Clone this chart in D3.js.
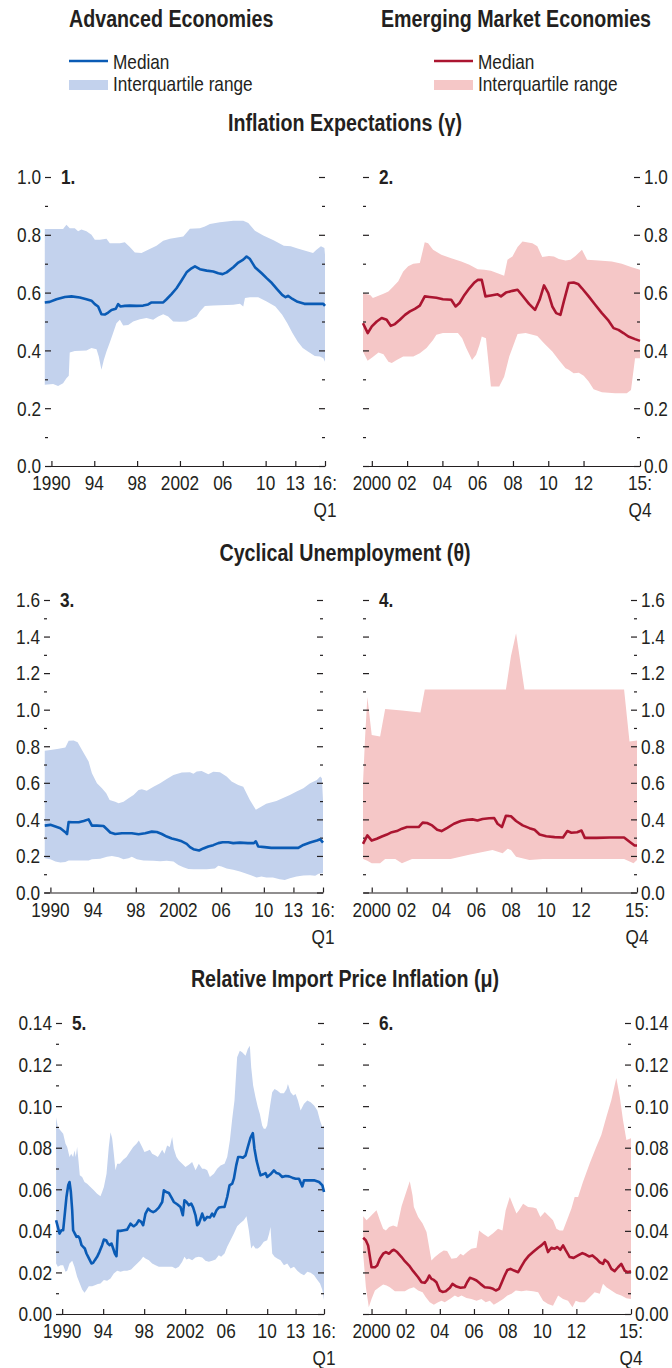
<!DOCTYPE html>
<html><head><meta charset="utf-8">
<script src="https://cdn.jsdelivr.net/npm/d3@7"></script>
<style>
html,body{margin:0;padding:0;background:#fff;}
svg{display:block;}
text{font-family:'Liberation Sans',Arial,Helvetica,sans-serif;fill:#231f20;}
</style></head><body>
<svg id="chart" width="672" height="1368"></svg>
<script>
// ---------- DATA ----------
// Inflation expectations (gamma)
const ieAdvMedian = [[1989.38,0.566],[1989.84,0.568],[1990.47,0.577],[1991.25,0.585],[1991.87,0.587],[1992.65,0.583],[1993.27,0.577],[1993.74,0.572],[1994.05,0.560],[1994.36,0.552],[1994.67,0.525],[1994.98,0.524],[1995.30,0.531],[1995.61,0.540],[1996.01,0.544],[1996.23,0.560],[1996.45,0.552],[1996.85,0.554],[1997.32,0.555],[1997.94,0.554],[1998.57,0.555],[1999.03,0.559],[1999.35,0.566],[1999.81,0.566],[2000.44,0.566],[2000.75,0.577],[2001.21,0.595],[2001.68,0.615],[2002.15,0.642],[2002.62,0.670],[2003.08,0.684],[2003.40,0.691],[2003.86,0.681],[2004.49,0.676],[2005.11,0.673],[2005.58,0.667],[2005.98,0.664],[2006.36,0.670],[2006.98,0.688],[2007.45,0.704],[2007.91,0.714],[2008.22,0.725],[2008.54,0.716],[2009.00,0.688],[2009.63,0.667],[2010.10,0.650],[2010.63,0.633],[2011.15,0.612],[2011.67,0.592],[2012.01,0.584],[2012.26,0.589],[2012.71,0.578],[2013.23,0.568],[2013.92,0.561],[2014.97,0.561],[2015.83,0.561],[2016.0,0.554]];
const ieAdvUpper = [[1989.38,0.820],[1991.09,0.820],[1991.40,0.835],[1991.71,0.823],[1992.18,0.823],[1992.49,0.812],[1992.80,0.818],[1993.27,0.812],[1993.74,0.800],[1994.05,0.783],[1994.52,0.783],[1995.14,0.786],[1995.45,0.771],[1996.39,0.771],[1996.85,0.774],[1997.32,0.758],[1997.79,0.739],[1998.41,0.737],[1999.03,0.748],[1999.81,0.762],[2000.44,0.779],[2001.06,0.786],[2002.31,0.794],[2002.93,0.821],[2003.86,0.823],[2004.33,0.829],[2004.80,0.837],[2005.73,0.843],[2006.98,0.849],[2007.91,0.849],[2008.38,0.841],[2009.00,0.814],[2009.78,0.798],[2010.80,0.781],[2011.84,0.762],[2012.53,0.760],[2013.23,0.753],[2013.92,0.746],[2014.79,0.737],[2015.14,0.748],[2015.59,0.760],[2015.94,0.754],[2016.0,0.731]];
const ieAdvLower = [[1989.38,0.281],[1990.16,0.284],[1990.62,0.277],[1991.09,0.286],[1991.40,0.304],[1991.62,0.312],[1991.71,0.393],[1992.18,0.398],[1993.27,0.400],[1993.74,0.408],[1994.21,0.404],[1994.42,0.379],[1994.67,0.333],[1994.89,0.367],[1995.14,0.396],[1995.45,0.427],[1995.76,0.460],[1996.07,0.494],[1996.39,0.506],[1996.70,0.486],[1997.17,0.488],[1997.63,0.500],[1998.26,0.508],[1998.88,0.512],[1999.50,0.506],[1999.97,0.517],[2000.44,0.525],[2000.90,0.517],[2001.37,0.500],[2001.99,0.499],[2002.62,0.500],[2003.08,0.508],[2003.55,0.517],[2003.86,0.535],[2004.33,0.554],[2005.11,0.555],[2006.98,0.558],[2007.60,0.561],[2007.91,0.552],[2008.07,0.581],[2008.54,0.584],[2009.31,0.584],[2010.10,0.569],[2010.98,0.552],[2011.67,0.523],[2012.19,0.494],[2012.71,0.460],[2013.23,0.431],[2013.75,0.408],[2014.27,0.396],[2014.97,0.381],[2015.49,0.379],[2015.83,0.373],[2016.0,0.361]];
const ieEmMedian = [[1999.5,0.494],[1999.77,0.460],[2000.00,0.483],[2000.28,0.500],[2000.56,0.512],[2000.84,0.506],[2001.07,0.485],[2001.31,0.491],[2001.59,0.506],[2001.88,0.523],[2002.16,0.535],[2002.44,0.544],[2002.72,0.555],[2003.00,0.587],[2003.28,0.585],[2003.66,0.582],[2004.03,0.577],[2004.50,0.575],[2004.75,0.552],[2004.97,0.564],[2005.25,0.592],[2005.53,0.615],[2005.82,0.635],[2006.00,0.644],[2006.23,0.644],[2006.44,0.587],[2006.75,0.590],[2007.13,0.594],[2007.32,0.587],[2007.60,0.600],[2007.97,0.606],[2008.26,0.610],[2008.54,0.589],[2008.91,0.561],[2009.25,0.540],[2009.51,0.575],[2009.76,0.625],[2010.00,0.598],[2010.23,0.552],[2010.45,0.529],[2010.69,0.523],[2010.88,0.569],[2011.16,0.633],[2011.44,0.635],[2011.69,0.630],[2011.91,0.615],[2012.29,0.587],[2012.66,0.558],[2013.04,0.529],[2013.38,0.506],[2013.70,0.477],[2013.98,0.471],[2014.26,0.460],[2014.54,0.448],[2014.92,0.439],[2015.2,0.433]];
const ieEmUpper = [[1999.5,0.598],[1999.91,0.592],[2000.06,0.581],[2000.38,0.589],[2000.66,0.596],[2000.94,0.604],[2001.22,0.621],[2001.50,0.639],[2001.78,0.673],[2002.06,0.691],[2002.35,0.700],[2002.72,0.702],[2003.00,0.774],[2003.19,0.771],[2003.47,0.748],[2003.94,0.731],[2004.50,0.719],[2005.07,0.708],[2005.53,0.696],[2006.00,0.681],[2006.38,0.679],[2006.75,0.676],[2007.13,0.667],[2007.50,0.658],[2007.69,0.714],[2007.97,0.725],[2008.26,0.758],[2008.54,0.777],[2009.10,0.771],[2009.38,0.760],[2009.66,0.723],[2010.04,0.727],[2010.32,0.725],[2010.60,0.716],[2010.98,0.711],[2011.26,0.714],[2011.54,0.727],[2011.91,0.748],[2012.20,0.714],[2012.85,0.711],[2013.60,0.708],[2014.17,0.700],[2014.73,0.688],[2015.2,0.679]];
const ieEmLower = [[1999.5,0.396],[1999.76,0.364],[2000.00,0.375],[2000.38,0.393],[2000.66,0.387],[2000.94,0.361],[2001.13,0.356],[2001.41,0.367],[2001.78,0.379],[2002.35,0.379],[2002.72,0.390],[2003.10,0.408],[2003.47,0.436],[2003.66,0.454],[2004.03,0.460],[2004.88,0.460],[2005.12,0.442],[2005.35,0.408],[2005.68,0.367],[2005.91,0.385],[2006.10,0.419],[2006.23,0.448],[2006.47,0.442],[2006.75,0.275],[2007.22,0.275],[2007.50,0.309],[2007.79,0.379],[2008.26,0.457],[2008.72,0.460],[2009.38,0.450],[2009.76,0.425],[2010.23,0.396],[2010.60,0.367],[2010.98,0.338],[2011.16,0.333],[2011.44,0.321],[2011.73,0.323],[2012.01,0.312],[2012.29,0.292],[2012.57,0.266],[2013.04,0.255],[2013.79,0.252],[2014.45,0.252],[2014.69,0.263],[2014.92,0.373],[2015.2,0.373]];

// Cyclical unemployment (theta)
const cuAdvMedian = [[1989.47,0.366],[1990.00,0.370],[1990.47,0.361],[1990.93,0.352],[1991.40,0.330],[1991.56,0.320],[1991.71,0.386],[1992.02,0.384],[1992.65,0.384],[1993.12,0.391],[1993.58,0.400],[1993.89,0.366],[1994.36,0.366],[1994.98,0.364],[1995.30,0.346],[1995.61,0.328],[1996.07,0.320],[1996.70,0.324],[1997.63,0.324],[1998.26,0.319],[1998.88,0.324],[1999.50,0.333],[1999.97,0.331],[2000.44,0.320],[2000.90,0.306],[2001.37,0.295],[2001.84,0.288],[2002.31,0.280],[2002.77,0.266],[2003.08,0.248],[2003.40,0.237],[2003.93,0.230],[2004.33,0.241],[2004.80,0.252],[2005.26,0.259],[2005.73,0.270],[2006.14,0.275],[2006.67,0.275],[2007.13,0.270],[2007.76,0.273],[2008.50,0.270],[2009.07,0.270],[2009.25,0.280],[2009.47,0.252],[2010.07,0.248],[2010.75,0.244],[2011.61,0.244],[2012.64,0.244],[2013.49,0.244],[2014.01,0.260],[2014.69,0.273],[2015.38,0.284],[2015.72,0.291],[2016.0,0.273]];
const cuAdvUpper = [[1989.47,0.776],[1990.00,0.780],[1990.78,0.786],[1991.40,0.793],[1991.71,0.830],[1992.18,0.831],[1992.55,0.822],[1992.96,0.780],[1993.58,0.716],[1993.89,0.652],[1994.36,0.598],[1994.83,0.570],[1995.23,0.543],[1995.55,0.506],[1996.07,0.497],[1996.39,0.488],[1996.85,0.497],[1997.32,0.515],[1997.79,0.534],[1998.26,0.561],[1998.57,0.565],[1999.03,0.556],[1999.66,0.579],[2000.28,0.598],[2000.90,0.621],[2001.53,0.643],[2002.31,0.656],[2003.08,0.658],[2003.40,0.649],[2003.71,0.662],[2004.17,0.665],[2004.80,0.647],[2005.26,0.660],[2005.89,0.658],[2006.51,0.634],[2006.98,0.607],[2007.60,0.588],[2008.07,0.579],[2008.69,0.506],[2009.25,0.452],[2009.78,0.470],[2010.24,0.485],[2011.27,0.501],[2011.95,0.517],[2012.64,0.534],[2013.32,0.552],[2014.01,0.570],[2014.69,0.598],[2015.38,0.616],[2015.72,0.634],[2015.89,0.625],[2016.0,0.506]];
const cuAdvLower = [[1989.47,0.187],[1990.00,0.182],[1990.47,0.169],[1990.93,0.164],[1991.40,0.167],[1991.71,0.175],[1992.80,0.175],[1993.58,0.175],[1993.89,0.182],[1994.67,0.184],[1995.30,0.196],[1995.76,0.200],[1996.39,0.193],[1996.85,0.182],[1997.32,0.187],[1997.63,0.196],[1998.10,0.182],[1998.72,0.175],[1999.66,0.173],[2000.28,0.171],[2000.90,0.173],[2001.53,0.169],[2001.99,0.151],[2002.46,0.138],[2002.93,0.129],[2003.40,0.127],[2004.02,0.127],[2004.64,0.127],[2005.42,0.131],[2005.73,0.146],[2006.04,0.142],[2006.51,0.131],[2007.13,0.124],[2007.76,0.115],[2008.38,0.102],[2008.85,0.093],[2009.32,0.082],[2009.78,0.087],[2010.24,0.082],[2010.92,0.082],[2011.61,0.073],[2012.12,0.069],[2012.64,0.078],[2013.32,0.087],[2014.01,0.093],[2014.69,0.094],[2015.21,0.091],[2015.55,0.102],[2016.0,0.105]];
const cuEmMedian = [[1999.5,0.266],[1999.75,0.312],[2000.00,0.284],[2000.29,0.294],[2000.58,0.306],[2000.87,0.317],[2001.15,0.330],[2001.44,0.336],[2001.73,0.349],[2002.02,0.358],[2002.31,0.358],[2002.69,0.358],[2002.92,0.382],[2003.17,0.380],[2003.46,0.367],[2003.75,0.343],[2004.00,0.336],[2004.33,0.354],[2004.71,0.376],[2005.10,0.391],[2005.48,0.398],[2005.77,0.400],[2006.06,0.394],[2006.35,0.402],[2006.73,0.406],[2007.02,0.407],[2007.21,0.376],[2007.46,0.358],[2007.69,0.420],[2007.98,0.417],[2008.27,0.391],[2008.65,0.367],[2009.04,0.352],[2009.33,0.343],[2009.62,0.317],[2010.00,0.308],[2010.48,0.303],[2010.96,0.301],[2011.21,0.336],[2011.44,0.327],[2011.77,0.330],[2012.02,0.339],[2012.21,0.299],[2012.88,0.299],[2013.65,0.301],[2014.46,0.301],[2014.81,0.275],[2015.06,0.257],[2015.2,0.257]];
const cuEmUpper = [[1999.5,0.60],[1999.62,0.85],[1999.75,1.07],[2000.00,0.862],[2000.48,0.853],[2000.77,1.004],[2001.73,0.996],[2002.79,0.985],[2003.04,1.110],[2007.69,1.110],[2007.98,1.294],[2008.27,1.418],[2008.75,1.110],[2014.46,1.110],[2014.77,0.826],[2015.2,0.831]];
const cuEmLower = [[1999.5,0.183],[1999.75,0.174],[2000.00,0.160],[2000.48,0.160],[2000.77,0.183],[2001.35,0.183],[2001.73,0.160],[2002.31,0.183],[2002.88,0.183],[2004.52,0.183],[2005.58,0.207],[2006.92,0.233],[2007.50,0.215],[2007.79,0.239],[2007.98,0.233],[2008.27,0.196],[2009.04,0.178],[2009.81,0.183],[2011.35,0.183],[2014.46,0.183],[2015.0,0.160],[2015.2,0.178]];

// Relative import price inflation (mu)
const ipAdvMedian = [[1989.41,0.0451],[1989.58,0.0419],[1989.74,0.0387],[1989.93,0.0403],[1990.10,0.0403],[1990.26,0.0483],[1990.42,0.0563],[1990.59,0.0619],[1990.72,0.0635],[1990.85,0.0587],[1990.98,0.0499],[1991.07,0.0403],[1991.24,0.0387],[1991.40,0.0371],[1991.56,0.0374],[1991.72,0.0363],[1991.89,0.0331],[1992.05,0.0323],[1992.21,0.0315],[1992.37,0.0291],[1992.54,0.0275],[1992.70,0.0259],[1992.86,0.0243],[1993.02,0.0246],[1993.19,0.0259],[1993.41,0.0275],[1993.64,0.0299],[1993.90,0.0331],[1994.07,0.0358],[1994.29,0.0355],[1994.46,0.0339],[1994.65,0.0331],[1994.81,0.0339],[1994.98,0.0315],[1995.14,0.0291],[1995.30,0.0278],[1995.43,0.0400],[1995.69,0.0400],[1996.02,0.0403],[1996.34,0.0406],[1996.67,0.0435],[1996.83,0.0427],[1996.99,0.0422],[1997.25,0.0432],[1997.48,0.0451],[1997.71,0.0443],[1997.90,0.0427],[1998.13,0.0483],[1998.39,0.0507],[1998.62,0.0496],[1998.88,0.0490],[1999.11,0.0496],[1999.43,0.0512],[1999.76,0.0539],[1999.92,0.0595],[2000.15,0.0587],[2000.41,0.0582],[2000.67,0.0560],[2000.89,0.0539],[2001.22,0.0528],[2001.54,0.0515],[2001.77,0.0475],[2001.93,0.0547],[2002.13,0.0539],[2002.36,0.0523],[2002.59,0.0531],[2002.78,0.0512],[2003.01,0.0475],[2003.17,0.0427],[2003.33,0.0435],[2003.50,0.0459],[2003.66,0.0483],[2003.89,0.0451],[2004.15,0.0467],[2004.41,0.0464],[2004.63,0.0483],[2004.80,0.0470],[2005.06,0.0499],[2005.28,0.0512],[2005.61,0.0515],[2005.84,0.0515],[2006.10,0.0563],[2006.33,0.0619],[2006.59,0.0627],[2006.75,0.0651],[2006.98,0.0715],[2007.17,0.0755],[2007.40,0.0755],[2007.63,0.0752],[2007.89,0.0763],[2008.11,0.0803],[2008.37,0.0848],[2008.60,0.0870],[2008.76,0.0795],[2008.96,0.0739],[2009.19,0.0694],[2009.35,0.0667],[2009.61,0.0672],[2009.84,0.0678],[2010.00,0.0659],[2010.35,0.0672],[2010.71,0.0691],[2010.99,0.0678],[2011.24,0.0675],[2011.59,0.0659],[2011.94,0.0664],[2012.30,0.0662],[2012.65,0.0656],[2013.00,0.0651],[2013.36,0.0651],[2013.71,0.0614],[2013.89,0.0643],[2014.24,0.0643],[2014.95,0.0643],[2015.48,0.0635],[2015.83,0.0619],[2016.0,0.0587]];
const ipAdvUpper = [[1989.41,0.0947],[1989.58,0.0899],[1989.84,0.0883],[1990.10,0.0867],[1990.33,0.0819],[1990.49,0.0803],[1990.72,0.0755],[1990.88,0.0771],[1991.07,0.0755],[1991.20,0.0787],[1991.33,0.0755],[1991.46,0.0803],[1991.59,0.0739],[1991.72,0.0667],[1991.95,0.0659],[1992.18,0.0635],[1992.44,0.0627],[1992.76,0.0611],[1993.09,0.0595],[1993.41,0.0579],[1993.74,0.0566],[1993.90,0.0587],[1994.07,0.0611],[1994.33,0.0675],[1994.55,0.0803],[1994.72,0.0875],[1994.88,0.0843],[1995.04,0.0771],[1995.20,0.0691],[1995.37,0.0723],[1995.63,0.0723],[1995.95,0.0742],[1996.28,0.0755],[1996.60,0.0779],[1996.93,0.0803],[1997.25,0.0819],[1997.48,0.0835],[1997.80,0.0803],[1998.03,0.0779],[1998.29,0.0784],[1998.55,0.0790],[1998.78,0.0771],[1999.11,0.0763],[1999.33,0.0755],[1999.53,0.0771],[1999.76,0.0790],[1999.98,0.0771],[2000.24,0.0811],[2000.50,0.0803],[2000.73,0.0851],[2000.89,0.0795],[2001.15,0.0755],[2001.38,0.0739],[2001.71,0.0723],[2002.03,0.0707],[2002.36,0.0718],[2002.68,0.0731],[2003.01,0.0691],[2003.33,0.0723],[2003.66,0.0699],[2003.89,0.0699],[2004.15,0.0691],[2004.41,0.0659],[2004.80,0.0675],[2005.12,0.0699],[2005.45,0.0715],[2005.84,0.0723],[2006.10,0.0755],[2006.36,0.0835],[2006.59,0.0939],[2006.81,0.1027],[2007.07,0.1235],[2007.33,0.1267],[2007.56,0.1259],[2007.89,0.1243],[2008.11,0.1275],[2008.31,0.1291],[2008.44,0.1187],[2008.63,0.1099],[2008.86,0.1043],[2009.09,0.0995],[2009.28,0.0963],[2009.51,0.0907],[2009.67,0.0891],[2009.84,0.0891],[2010.00,0.0907],[2010.28,0.0995],[2010.53,0.1067],[2010.78,0.1083],[2011.06,0.1075],[2011.41,0.1062],[2011.77,0.1062],[2012.05,0.1083],[2012.19,0.1107],[2012.47,0.1067],[2012.76,0.1051],[2013.00,0.1059],[2013.25,0.1027],[2013.53,0.0979],[2013.89,0.1011],[2014.24,0.1027],[2014.59,0.1019],[2014.95,0.1003],[2015.30,0.0979],[2015.58,0.0931],[2015.83,0.0899],[2016.0,0.0907]];
const ipAdvLower = [[1989.41,0.0243],[1989.58,0.0227],[1989.84,0.0235],[1990.10,0.0235],[1990.33,0.0203],[1990.49,0.0208],[1990.72,0.0243],[1990.98,0.0256],[1991.20,0.0227],[1991.46,0.0179],[1991.72,0.0147],[1991.95,0.0118],[1992.18,0.0102],[1992.37,0.0115],[1992.60,0.0134],[1992.93,0.0134],[1993.25,0.0139],[1993.48,0.0144],[1993.74,0.0147],[1994.07,0.0163],[1994.39,0.0160],[1994.72,0.0171],[1995.04,0.0195],[1995.37,0.0208],[1995.69,0.0203],[1996.02,0.0208],[1996.34,0.0208],[1996.73,0.0214],[1996.99,0.0227],[1997.32,0.0243],[1997.64,0.0259],[1997.90,0.0275],[1998.13,0.0267],[1998.46,0.0259],[1998.78,0.0243],[1999.11,0.0235],[1999.43,0.0227],[1999.76,0.0227],[2000.08,0.0227],[2000.41,0.0227],[2000.73,0.0227],[2001.06,0.0219],[2001.38,0.0227],[2001.71,0.0251],[2001.93,0.0275],[2002.13,0.0262],[2002.36,0.0267],[2002.68,0.0259],[2003.01,0.0272],[2003.33,0.0275],[2003.66,0.0272],[2003.98,0.0256],[2004.31,0.0251],[2004.63,0.0256],[2004.96,0.0262],[2005.28,0.0283],[2005.51,0.0275],[2005.84,0.0291],[2006.10,0.0323],[2006.42,0.0355],[2006.75,0.0387],[2007.07,0.0422],[2007.40,0.0438],[2007.72,0.0451],[2007.98,0.0470],[2008.21,0.0403],[2008.44,0.0315],[2008.63,0.0331],[2008.86,0.0315],[2009.09,0.0315],[2009.35,0.0326],[2009.67,0.0347],[2010.00,0.0355],[2010.21,0.0387],[2010.35,0.0419],[2010.53,0.0291],[2010.78,0.0275],[2011.06,0.0267],[2011.41,0.0259],[2011.77,0.0235],[2012.12,0.0243],[2012.47,0.0219],[2012.83,0.0227],[2013.18,0.0208],[2013.53,0.0195],[2013.89,0.0187],[2014.24,0.0203],[2014.59,0.0198],[2014.95,0.0187],[2015.30,0.0163],[2015.58,0.0147],[2015.83,0.0115],[2016.0,0.0067]];
const ipEmMedian = [[1999.51,0.0367],[1999.67,0.0354],[1999.80,0.0330],[2000.00,0.0225],[2000.20,0.0225],[2000.33,0.0233],[2000.49,0.0266],[2000.68,0.0290],[2000.84,0.0298],[2001.03,0.0290],[2001.17,0.0303],[2001.31,0.0309],[2001.50,0.0298],[2001.76,0.0274],[2001.95,0.0254],[2002.20,0.0233],[2002.44,0.0206],[2002.73,0.0177],[2002.93,0.0153],[2003.12,0.0150],[2003.26,0.0164],[2003.38,0.0185],[2003.51,0.0169],[2003.65,0.0164],[2003.80,0.0153],[2004.00,0.0113],[2004.16,0.0106],[2004.35,0.0109],[2004.59,0.0126],[2004.74,0.0145],[2004.98,0.0132],[2005.21,0.0126],[2005.46,0.0129],[2005.60,0.0153],[2005.76,0.0174],[2005.95,0.0169],[2006.15,0.0161],[2006.38,0.0145],[2006.63,0.0129],[2006.93,0.0126],[2007.12,0.0121],[2007.28,0.0113],[2007.47,0.0121],[2007.61,0.0148],[2007.80,0.0185],[2007.96,0.0212],[2008.14,0.0217],[2008.35,0.0209],[2008.59,0.0201],[2008.78,0.0229],[2008.98,0.0257],[2009.23,0.0282],[2009.46,0.0298],[2009.76,0.0319],[2009.95,0.0330],[2010.15,0.0346],[2010.34,0.0298],[2010.54,0.0319],[2010.73,0.0314],[2010.87,0.0322],[2011.06,0.0309],[2011.22,0.0330],[2011.38,0.0306],[2011.61,0.0274],[2011.84,0.0270],[2012.10,0.0282],[2012.35,0.0293],[2012.55,0.0286],[2012.74,0.0277],[2012.94,0.0282],[2013.17,0.0266],[2013.37,0.0249],[2013.56,0.0241],[2013.66,0.0261],[2013.85,0.0249],[2014.05,0.0217],[2014.24,0.0206],[2014.44,0.0225],[2014.63,0.0241],[2014.83,0.0209],[2014.99,0.0201],[2015.2,0.0206]];
const ipEmUpper = [[1999.51,0.0470],[1999.71,0.0451],[1999.90,0.0467],[2000.10,0.0483],[2000.29,0.0499],[2000.49,0.0451],[2000.68,0.0410],[2000.84,0.0402],[2001.03,0.0418],[2001.27,0.0426],[2001.50,0.0418],[2001.76,0.0518],[2001.95,0.0566],[2002.24,0.0639],[2002.40,0.0571],[2002.48,0.0515],[2002.73,0.0467],[2002.99,0.0435],[2003.22,0.0394],[2003.51,0.0257],[2003.71,0.0274],[2004.00,0.0293],[2004.23,0.0306],[2004.43,0.0303],[2004.68,0.0266],[2004.98,0.0270],[2005.21,0.0290],[2005.37,0.0282],[2005.60,0.0298],[2005.85,0.0314],[2006.15,0.0319],[2006.30,0.0402],[2006.54,0.0386],[2006.83,0.0370],[2007.12,0.0389],[2007.41,0.0410],[2007.67,0.0402],[2007.86,0.0499],[2008.10,0.0563],[2008.29,0.0523],[2008.49,0.0483],[2008.64,0.0499],[2008.88,0.0531],[2009.17,0.0515],[2009.46,0.0512],[2009.66,0.0507],[2009.89,0.0467],[2010.15,0.0491],[2010.40,0.0470],[2010.63,0.0451],[2010.83,0.0410],[2011.02,0.0402],[2011.22,0.0402],[2011.41,0.0443],[2011.71,0.0507],[2011.90,0.0563],[2012.10,0.0563],[2012.39,0.0636],[2012.78,0.0724],[2013.17,0.0805],[2013.46,0.0861],[2013.76,0.0949],[2014.05,0.1030],[2014.34,0.1135],[2014.54,0.1046],[2014.73,0.0933],[2014.93,0.0837],[2015.2,0.0845]];
const ipEmLower = [[1999.51,0.0290],[1999.67,0.0129],[1999.84,0.0032],[2000.00,0.0072],[2000.20,0.0113],[2000.45,0.0129],[2000.68,0.0142],[2000.88,0.0137],[2001.07,0.0129],[2001.37,0.0109],[2001.66,0.0109],[2001.95,0.0109],[2002.20,0.0121],[2002.48,0.0129],[2002.73,0.0113],[2002.99,0.0105],[2003.18,0.0080],[2003.41,0.0056],[2003.65,0.0045],[2003.90,0.0056],[2004.10,0.0064],[2004.29,0.0056],[2004.59,0.0072],[2004.88,0.0089],[2005.07,0.0080],[2005.27,0.0089],[2005.56,0.0077],[2005.85,0.0072],[2006.15,0.0064],[2006.44,0.0072],[2006.69,0.0056],[2006.93,0.0064],[2007.16,0.0045],[2007.41,0.0056],[2007.71,0.0072],[2007.96,0.0089],[2008.20,0.0097],[2008.45,0.0113],[2008.78,0.0109],[2009.07,0.0113],[2009.46,0.0109],[2009.76,0.0105],[2010.05,0.0064],[2010.34,0.0048],[2010.63,0.0040],[2010.93,0.0089],[2011.22,0.0072],[2011.51,0.0064],[2011.77,0.0032],[2011.96,0.0064],[2012.20,0.0056],[2012.49,0.0056],[2012.78,0.0080],[2013.07,0.0105],[2013.37,0.0097],[2013.56,0.0145],[2013.76,0.0129],[2014.05,0.0113],[2014.34,0.0097],[2014.63,0.0089],[2014.93,0.0076],[2015.2,0.0072]];

// Tick values and labels
const advYearTicks = [1990, 1994, 1998, 2002, 2006, 2010, 2013, 2016];
const advYearLabels = ['1990', '94', '98', '2002', '06', '10', '13', '16:'];
const advYearSub = ['', '', '', '', '', '', '', 'Q1'];
const emYearTicks = [2000, 2002, 2004, 2006, 2008, 2010, 2012, 2015.2];
const emYearLabels = ['2000', '02', '04', '06', '08', '10', '12', '15:'];
const emYearSub = ['', '', '', '', '', '', '', 'Q4'];
const ieTicks = [0, 0.2, 0.4, 0.6, 0.8, 1.0];
const ieMinor = [0.1, 0.3, 0.5, 0.7, 0.9];
const cuTicks = [0, 0.2, 0.4, 0.6, 0.8, 1.0, 1.2, 1.4, 1.6];
const cuMinor = [0.1, 0.3, 0.5, 0.7, 0.9, 1.1, 1.3, 1.5];
const ipTicks = [0, 0.02, 0.04, 0.06, 0.08, 0.10, 0.12, 0.14];
const ipMinor = [0.01, 0.03, 0.05, 0.07, 0.09, 0.11, 0.13];

const columnTitles = ['Advanced Economies', 'Emerging Market Economies'];
const sectionTitles = ['Inflation Expectations (\u03b3)', 'Cyclical Unemployment (\u03b8)', 'Relative Import Price Inflation (\u03bc)'];
const legendLabels = ['Median', 'Interquartile range'];

// ---------- DRAWING ----------
const BLUE = '#0a5bb5', BLUE_F = '#c3d2ed', RED = '#ab1530', RED_F = '#f5c7c7', INK = '#231f20';
const SX = 0.82; // condensed type
const svg = d3.select('#chart');
svg.append('rect').attr('width', 672).attr('height', 1368).attr('fill', '#fff');

function txt(parent, x, y, s, o) {
  o = o || {};
  const t = parent.append('text')
    .attr('transform', `translate(${x},${y}) scale(${SX},1)`)
    .attr('font-size', o.size || 21)
    .attr('text-anchor', o.anchor || 'start')
    .attr('font-weight', o.weight || 'normal')
    .text(s);
  if (o.dy) t.attr('dy', o.dy);
  return t;
}

txt(svg, 69, 27, columnTitles[0], {size: 24, weight: 'bold'});
txt(svg, 381, 27, columnTitles[1], {size: 24, weight: 'bold'});

function legend(x, color, fill) {
  svg.append('line').attr('x1', x).attr('x2', x + 39).attr('y1', 61).attr('y2', 61)
    .attr('stroke', color).attr('stroke-width', 2.5);
  svg.append('rect').attr('x', x).attr('y', 80).attr('width', 39).attr('height', 10).attr('fill', fill);
  txt(svg, x + 44, 68.5, legendLabels[0]);
  txt(svg, x + 44, 91, legendLabels[1]);
}
legend(69, BLUE, BLUE_F);
legend(434, RED, RED_F);

const sectionY = [131, 561, 987];
sectionTitles.forEach((t, i) => txt(svg, 345, sectionY[i], t, {size: 24, weight: 'bold', anchor: 'middle'}));

const panels = [
  {num: '1.', adv: true, L: 45, R: 325, top: 177, bottom: 466, ticks: ieTicks, minor: ieMinor, fmt: d3.format('.1f'), med: ieAdvMedian, hi: ieAdvUpper, lo: ieAdvLower},
  {num: '2.', adv: false, L: 363, R: 640, top: 177, bottom: 466, ticks: ieTicks, minor: ieMinor, fmt: d3.format('.1f'), med: ieEmMedian, hi: ieEmUpper, lo: ieEmLower},
  {num: '3.', adv: true, L: 44, R: 323, top: 600, bottom: 892.5, ticks: cuTicks, minor: cuMinor, fmt: d3.format('.1f'), med: cuAdvMedian, hi: cuAdvUpper, lo: cuAdvLower},
  {num: '4.', adv: false, L: 363, R: 637, top: 600, bottom: 892.5, ticks: cuTicks, minor: cuMinor, fmt: d3.format('.1f'), med: cuEmMedian, hi: cuEmUpper, lo: cuEmLower},
  {num: '5.', adv: true, L: 56, R: 324, top: 1023, bottom: 1314, ticks: ipTicks, minor: ipMinor, fmt: d3.format('.2f'), med: ipAdvMedian, hi: ipAdvUpper, lo: ipAdvLower},
  {num: '6.', adv: false, L: 363, R: 631, top: 1023, bottom: 1314, ticks: ipTicks, minor: ipMinor, fmt: d3.format('.2f'), med: ipEmMedian, hi: ipEmUpper, lo: ipEmLower}
];

function styleAxis(g) {
  g.select('.domain').remove();
  g.selectAll('line').attr('stroke', INK).attr('stroke-width', 1.2);
  g.selectAll('text').remove();
}

panels.forEach(p => {
  const x = p.adv
    ? d3.scaleLinear().domain([1989.4, 2010, 2016]).range([p.L, p.L + 0.788 * (p.R - p.L), p.R])
    : d3.scaleLinear().domain([1999.5, 2015.2]).range([p.L, p.R]);
  const ymax = p.ticks[p.ticks.length - 1];
  const y = d3.scaleLinear().domain([0, ymax]).range([p.bottom, p.top]);
  const g = svg.append('g');
  const color = p.adv ? BLUE : RED, fill = p.adv ? BLUE_F : RED_F;
  const line = d3.line().x(d => x(d[0])).y(d => y(d[1]));

  // interquartile band
  g.append('path').attr('d', line(p.hi.concat(p.lo.slice().reverse())) + 'Z').attr('fill', fill);

  // y-axis ticks (pointing inward on both sides)
  g.append('g').attr('transform', `translate(${p.L},0)`).call(d3.axisLeft(y).tickValues(p.ticks).tickSize(-6)).call(styleAxis);
  g.append('g').attr('transform', `translate(${p.R},0)`).call(d3.axisRight(y).tickValues(p.ticks).tickSize(-6)).call(styleAxis);
  g.append('g').attr('transform', `translate(${p.L},0)`).call(d3.axisLeft(y).tickValues(p.minor).tickSize(-3)).call(styleAxis);
  g.append('g').attr('transform', `translate(${p.R},0)`).call(d3.axisRight(y).tickValues(p.minor).tickSize(-3)).call(styleAxis);

  // y tick labels
  p.ticks.forEach(v => {
    if (p.adv) txt(g, p.L - 4, y(v), p.fmt(v), {anchor: 'end', dy: '0.35em'});
    else txt(g, p.R + 4, y(v), p.fmt(v), {anchor: 'start', dy: '0.35em'});
  });

  // x axis
  const xt = p.adv ? advYearTicks : emYearTicks;
  const xl = p.adv ? advYearLabels : emYearLabels;
  const xs = p.adv ? advYearSub : emYearSub;
  const xa = g.append('g').attr('transform', `translate(0,${p.bottom})`)
    .call(d3.axisBottom(x).tickValues(xt).tickSize(-5).tickSizeOuter(0).tickFormat(() => ''));
  xa.select('.domain').attr('stroke', INK).attr('stroke-width', 1.2);
  xa.selectAll('line').attr('stroke', INK).attr('stroke-width', 1.2);
  xa.selectAll('text').remove();
  xt.forEach((v, i) => {
    txt(g, x(v), p.bottom + 24, xl[i], {anchor: 'middle'});
    if (xs[i]) txt(g, x(v), p.bottom + 51, xs[i], {anchor: 'middle'});
  });

  // median
  g.append('path').attr('d', line(p.med)).attr('fill', 'none').attr('stroke', color)
    .attr('stroke-width', 2.6).attr('stroke-linejoin', 'round');

  // panel number
  txt(g, p.L + 16, p.top + 7, p.num, {weight: 'bold'});
});
</script>
</body></html>
